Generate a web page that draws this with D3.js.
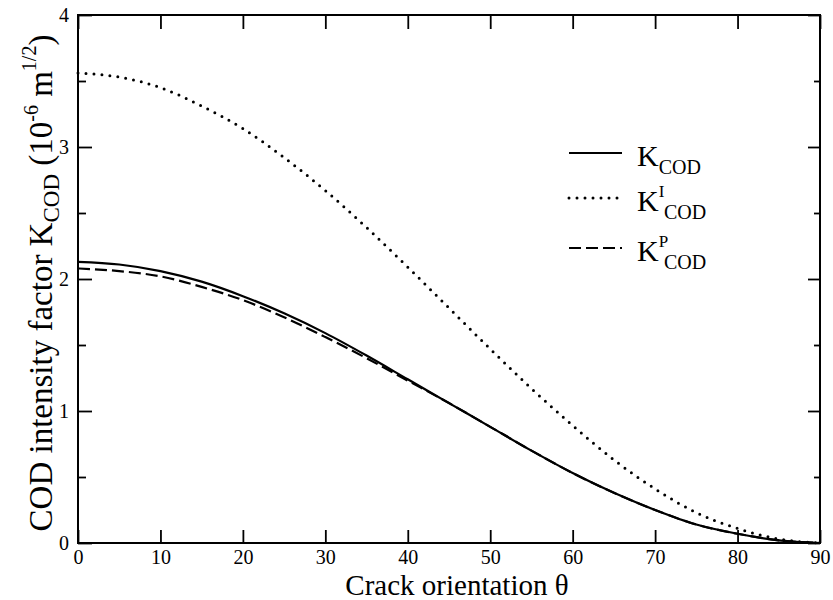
<!DOCTYPE html>
<html>
<head>
<meta charset="utf-8">
<script src="https://cdn.jsdelivr.net/npm/d3@7"></script>
<style>
  html, body { margin: 0; padding: 0; background: #fff; }
  svg { display: block; }
  text { font-family: "Liberation Serif", "Times New Roman", serif; fill: #000; }
</style>
</head>
<body>
<svg id="chart" width="833" height="600"></svg>
<script>
// ---- data ----
const theta = [0, 5, 10, 15, 20, 25, 30, 35, 40, 45, 50, 55, 60, 65, 70, 75, 80, 85, 90];
const kCOD  = [2.13, 2.11, 2.06, 1.98, 1.87, 1.74, 1.59, 1.42, 1.24, 1.06, 0.88, 0.70, 0.53, 0.38, 0.25, 0.14, 0.07, 0.02, 0.0];
const kI    = [3.56, 3.53, 3.45, 3.31, 3.14, 2.92, 2.67, 2.39, 2.09, 1.78, 1.47, 1.17, 0.89, 0.63, 0.41, 0.23, 0.11, 0.03, 0.0];
const kP    = [2.08, 2.06, 2.02, 1.94, 1.84, 1.71, 1.56, 1.40, 1.23, 1.06, 0.88, 0.70, 0.53, 0.38, 0.25, 0.14, 0.07, 0.02, 0.0];
const xTicks = [0, 10, 20, 30, 40, 50, 60, 70, 80, 90];
const yTicks = [0, 1, 2, 3, 4];
const yMinor = [0.5, 1.5, 2.5, 3.5];

const svg = d3.select("#chart");
const L = 78, R = 820, T = 15, B = 543;
const x = d3.scaleLinear().domain([0, 90]).range([L, R]);
const y = d3.scaleLinear().domain([0, 4]).range([B, T]);

// curves
const line = d3.line().x(d => x(d[0])).y(d => y(d[1])).curve(d3.curveMonotoneX);
const mk = arr => theta.map((t, i) => [t, arr[i]]);

svg.append("path").datum(mk(kI)).attr("d", line)
  .attr("fill", "none").attr("stroke", "#000").attr("stroke-width", 3)
  .attr("stroke-linecap", "round").attr("stroke-dasharray", "0,8");
svg.append("path").datum(mk(kP)).attr("d", line)
  .attr("fill", "none").attr("stroke", "#000").attr("stroke-width", 2.2)
  .attr("stroke-dasharray", "12,5");
svg.append("path").datum(mk(kCOD)).attr("d", line)
  .attr("fill", "none").attr("stroke", "#000").attr("stroke-width", 2.2);

// axes (inward ticks, mirrored)
const axB = d3.axisBottom(x).tickValues(xTicks).tickSizeInner(-13).tickSizeOuter(0).tickPadding(7);
const gB = svg.append("g").attr("transform", `translate(0,${B})`).call(axB);
const axT = d3.axisTop(x).tickValues(xTicks).tickSizeInner(-14).tickSizeOuter(0).tickFormat("");
const gT = svg.append("g").attr("transform", `translate(0,${T})`).call(axT);
const axL = d3.axisLeft(y).tickValues(yTicks).tickSizeInner(-14).tickSizeOuter(0).tickPadding(9).tickFormat(d3.format("d"));
const gL = svg.append("g").attr("transform", `translate(${L},0)`).call(axL);
const axLm = d3.axisLeft(y).tickValues(yMinor).tickSizeInner(-8).tickSizeOuter(0).tickFormat("");
const gLm = svg.append("g").attr("transform", `translate(${L},0)`).call(axLm);
const axR = d3.axisRight(y).tickValues(yTicks).tickSizeInner(-12).tickSizeOuter(0).tickFormat("");
const gR = svg.append("g").attr("transform", `translate(${R},0)`).call(axR);
const axRm = d3.axisRight(y).tickValues(yMinor).tickSizeInner(-6).tickSizeOuter(0).tickFormat("");
const gRm = svg.append("g").attr("transform", `translate(${R},0)`).call(axRm);

[gB, gT, gL, gLm, gR, gRm].forEach(g => {
  g.select(".domain").remove();
  g.selectAll("line").attr("stroke", "#000").attr("stroke-width", 1.8);
  g.selectAll("text").attr("font-size", 20).attr("font-family", "Liberation Serif");
});
gL.selectAll("text").attr("dy", "0.34em");

// frame
svg.append("rect").attr("x", L).attr("y", T).attr("width", R - L).attr("height", B - T)
  .attr("fill", "none").attr("stroke", "#000").attr("stroke-width", 2);

// x title
svg.append("text").attr("x", (L + R) / 2 + 8).attr("y", 595).attr("text-anchor", "middle")
  .attr("font-size", 29).text("Crack orientation \u03b8");

// y title
const yt = svg.append("text").attr("transform", `translate(52,${283}) rotate(-90)`)
  .attr("text-anchor", "middle").attr("font-size", 33);
yt.append("tspan").text("COD intensity factor K");
yt.append("tspan").attr("dy", 7).attr("font-size", 23).text("COD");
yt.append("tspan").attr("dy", -7).text(" (10");
yt.append("tspan").attr("dy", -14).attr("font-size", 20).text("-6");
yt.append("tspan").attr("dy", 14).text(" m");
yt.append("tspan").attr("dy", -16).attr("font-size", 20).text("1/2");
yt.append("tspan").attr("dy", 16).text(")");

// legend
const legend = [
  { sup: "",  style: { w: 2.2, dash: null, cap: "butt" },  ly: 153 },
  { sup: "I", style: { w: 3, dash: "0,8", cap: "round" }, ly: 198 },
  { sup: "P", style: { w: 2.2, dash: "12,5", cap: "butt" }, ly: 248 }
];
legend.forEach(d => {
  svg.append("line").attr("x1", 569).attr("x2", 622).attr("y1", d.ly).attr("y2", d.ly)
    .attr("stroke", "#000").attr("stroke-width", d.style.w)
    .attr("stroke-dasharray", d.style.dash).attr("stroke-linecap", d.style.cap);
  const t = svg.append("text").attr("x", 637).attr("y", d.ly + 13).attr("font-size", 30);
  t.append("tspan").text("K");
  if (d.sup) {
    t.append("tspan").attr("dy", -14).attr("font-size", 17).text(d.sup);
    t.append("tspan").attr("dy", 22).attr("font-size", 20).attr("x", 664).text("COD");
  } else {
    t.append("tspan").attr("dy", 8).attr("font-size", 20).text("COD");
  }
});
</script>
</body>
</html>
